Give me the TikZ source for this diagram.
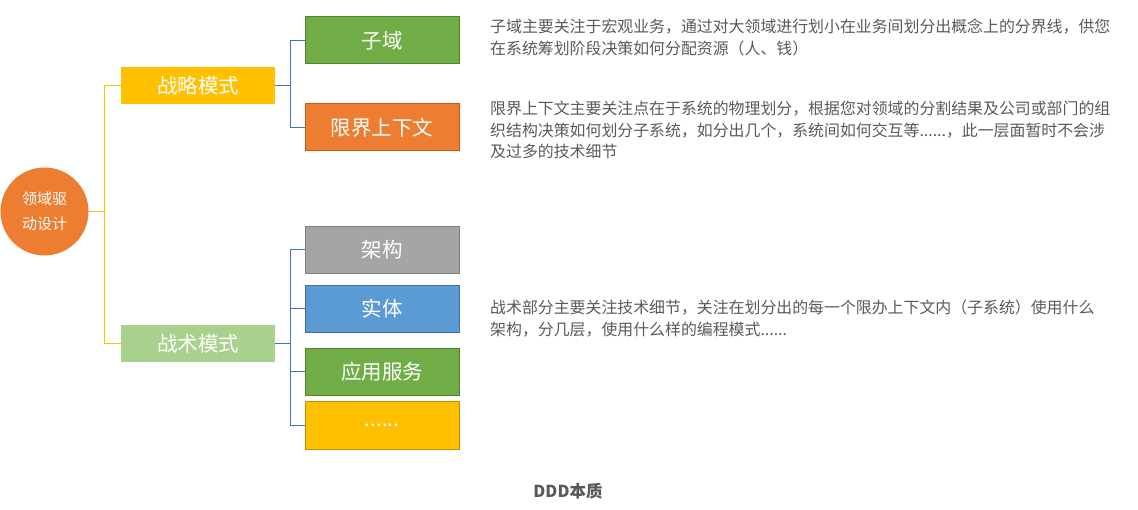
\documentclass[tikz,border=0pt]{standalone}
\usepackage{fontspec}
\setmainfont{Noto Sans CJK SC}
\definecolor{orng}{HTML}{ED7D31}
\definecolor{orngd}{HTML}{C55A11}
\definecolor{yel}{HTML}{FFC000}
\definecolor{yeld}{HTML}{BF9000}
\definecolor{lgrn}{HTML}{A9D18E}
\definecolor{grn}{HTML}{70AD47}
\definecolor{grnd}{HTML}{548235}
\definecolor{gry}{HTML}{A5A5A5}
\definecolor{gryd}{HTML}{7F7F7F}
\definecolor{blu}{HTML}{5B9BD5}
\definecolor{blud}{HTML}{41719C}
\definecolor{lnb}{HTML}{4472C4}
\definecolor{txt}{HTML}{595959}
\tikzset{
  lvl1/.style={minimum width=154pt, minimum height=37pt, inner sep=0pt, text=white, font=\fontsize{20.5}{24}\selectfont},
  leaf/.style={minimum width=154pt, minimum height=47pt, inner sep=0pt, text=white, line width=1pt, font=\fontsize{20.5}{24}\selectfont},
  yline/.style={draw=yel, line width=1pt},
  bline/.style={draw=lnb, line width=1pt},
  desc/.style={anchor=north west, align=left, inner sep=0pt, text=txt, font=\fontsize{15.9}{21.5}\selectfont},
}
\begin{document}
\begin{tikzpicture}[x=1pt,y=-1pt]
\useasboundingbox (0,0) rectangle (1138,510);
\node[circle, fill=orng, minimum size=88pt, inner sep=0pt, text=white, align=center, font=\fontsize{15}{25}\selectfont] (root) at (44.5,211.5) {领域驱\\动设计};
\node[lvl1, fill=yel] (strat) at (198,85.5) {战略模式};
\node[lvl1, fill=lgrn] (tact) at (198,343.5) {战术模式};
\node[leaf, fill=grn, draw=grnd] (sub) at (382,40.5) {子域};
\node[leaf, fill=orng, draw=orngd] (bc) at (382,127.5) {限界上下文};
\node[leaf, fill=gry, draw=gryd] (arch) at (382,250) {架构};
\node[leaf, fill=blu, draw=blud] (ent) at (382,309) {实体};
\node[leaf, fill=grn, draw=grnd] (svc) at (382,372) {应用服务};
\node[leaf, fill=yel, draw=yeld] (more) at (382,425.5) {......};
\draw[yline] (root.east) -- ++(16,0) |- (strat.west);
\draw[yline] (root.east) -- ++(16,0) |- (tact.west);
\draw[bline] (strat.east) -- ++(15,0) |- (sub.west);
\draw[bline] (strat.east) -- ++(15,0) |- (bc.west);
\draw[bline] (tact.east) -- ++(15,0) |- (arch.west);
\draw[bline] (tact.east) -- ++(15,0) |- (ent.west);
\draw[bline] (tact.east) -- ++(15,0) |- (svc.west);
\draw[bline] (tact.east) -- ++(15,0) |- (more.west);
\node[desc] (d1) at (490,19) {子域主要关注于宏观业务，通过对大领域进行划小在业务间划分出概念上的分界线，供您\\在系统筹划阶段决策如何分配资源（人、钱）};
\node[desc] (d2) at (490,101) {限界上下文主要关注点在于系统的物理划分，根据您对领域的分割结果及公司或部门的组\\织结构决策如何划分子系统，如分出几个，系统间如何交互等......，此一层面暂时不会涉\\及过多的技术细节};
\node[desc] (d3) at (490,300) {战术部分主要关注技术细节，关注在划分出的每一个限办上下文内（子系统）使用什么\\架构，分几层，使用什么样的编程模式......};
\node[text=txt, font=\bfseries\fontsize{16.5}{18}\selectfont] (cap) at (568,491) {DDD本质};
\end{tikzpicture}
\end{document}
